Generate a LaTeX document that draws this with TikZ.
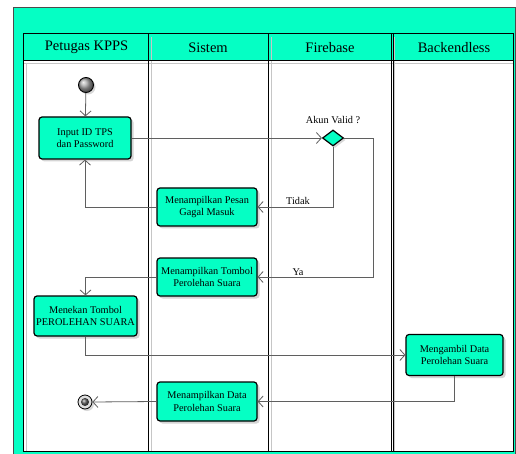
\documentclass[tikz,border=0pt]{standalone}
\usepackage{fontspec}
\setmainfont{Liberation Serif}
\usetikzlibrary{arrows.meta,shapes.geometric,shadows}
\definecolor{aqua}{RGB}{5,255,196}
\definecolor{linegray}{RGB}{95,95,95}
\tikzset{
  act/.style={draw=black, line width=1.2pt, rounded corners=3pt, fill=aqua,
    align=center, inner sep=1pt, font=\fontsize{10.3}{12.3}\selectfont,
    drop shadow={shadow xshift=2.5pt, shadow yshift=-2.5pt, fill=gray!55, opacity=.6}},
  hdr/.style={font=\fontsize{14.5}{16}\selectfont},
  flow/.style={draw=linegray, line width=0.8pt, -{Straight Barb[length=5pt,width=11pt]}},
  lbl/.style={font=\fontsize{10.3}{12}\selectfont, inner sep=0pt},
  lane/.style={draw=black, line width=1pt},
  laneshadow/.style={draw=gray!45, line width=1pt}
}
\begin{document}
\begin{tikzpicture}[x=1pt,y=-1pt]
\useasboundingbox (0,0) rectangle (516,454);
% outer frame
\draw[fill=aqua, draw=black!70, line width=0.8pt] (13,7) rectangle (515.5,458);
% table body
\fill[white] (23,34) rectangle (513.5,451);
% header
\fill[aqua] (23,34) rectangle (513.5,61);
% lane shadows
\foreach \x in {148,268,391} {\draw[laneshadow] (\x+3,37) -- (\x+3,451);}
\draw[laneshadow] (26,64) -- (26,451);
\draw[laneshadow] (23,64) -- (513.5,64);
% lanes
\draw[lane] (23,34) rectangle (513.5,451);
\draw[lane] (23,61) -- (513.5,61);
\foreach \x in {148,268,391} {\draw[lane] (\x,34) -- (\x,451);}
\draw[lane] (393,34) -- (393,451);
% headers
\node[hdr] (h1) at (86.5,47.5) {Petugas KPPS};
\node[hdr] (h2) at (208,47.5) {Sistem};
\node[hdr] (h3) at (330,47.5) {Firebase};
\node[hdr] (h4) at (454,47.5) {Backendless};
% nodes
\node[circle, minimum size=15pt, inner sep=0pt, draw=black, line width=0.9pt,
  ball color=gray!70, drop shadow={shadow xshift=2pt, shadow yshift=-2pt, fill=gray!50, opacity=.6}] (start) at (86,85) {};
\node[act, minimum width=92pt, minimum height=42pt] (input) at (85,138) {Input ID TPS\\dan Password};
\node[diamond, draw=black, line width=1.2pt, fill=aqua, minimum width=21pt, minimum height=16pt, inner sep=0pt,
  drop shadow={shadow xshift=2pt, shadow yshift=-2pt, fill=gray!50, opacity=.6}] (dec) at (333,138) {};
\node[act, minimum width=100pt, minimum height=38pt] (gagal) at (207,207) {Menampilkan Pesan\\Gagal Masuk};
\node[act, minimum width=100pt, minimum height=38pt] (tombol) at (207,277) {Menampilkan Tombol\\Perolehan Suara};
\node[act, minimum width=103pt, minimum height=40pt] (menekan) at (85.5,316) {Menekan Tombol\\PEROLEHAN SUARA};
\node[act, minimum width=97pt, minimum height=41pt] (ambil) at (454.5,355) {Mengambil Data\\Perolehan Suara};
\node[act, minimum width=100pt, minimum height=39pt] (data) at (207,401.5) {Menampilkan Data\\Perolehan Suara};
\node[circle, minimum size=14pt, inner sep=0pt, draw=black, line width=0.8pt, fill=gray!25,
  drop shadow={shadow xshift=2pt, shadow yshift=-2pt, fill=gray!50, opacity=.6}] (end) at (85,402) {};
\node[circle, minimum size=8pt, inner sep=0pt, ball color=gray!70!black] (endin) at (end.center) {};
% labels
\node[lbl] (akun) at (333,120) {Akun Valid ?};
\node[lbl] (tidak) at (298,201) {Tidak};
\node[lbl] (ya) at (298,272) {Ya};
\coordinate (yaturn) at (373,138);
% connectors
\draw[flow] (start) -- (input);
\draw[flow] (input.east) -- (dec.west);
\draw[flow] (dec.south) |- (gagal.east);
\draw[flow] (dec.east) -- (yaturn) |- (tombol.east);
\draw[flow] (gagal.west) -| (input.south);
\draw[flow] (tombol.west) -| (menekan.north);
\draw[flow] (menekan.south) |- (ambil.west);
\draw[flow] (ambil.south) |- (data.east);
\draw[flow] (data.west) -- (end.east);
\end{tikzpicture}
\end{document}
